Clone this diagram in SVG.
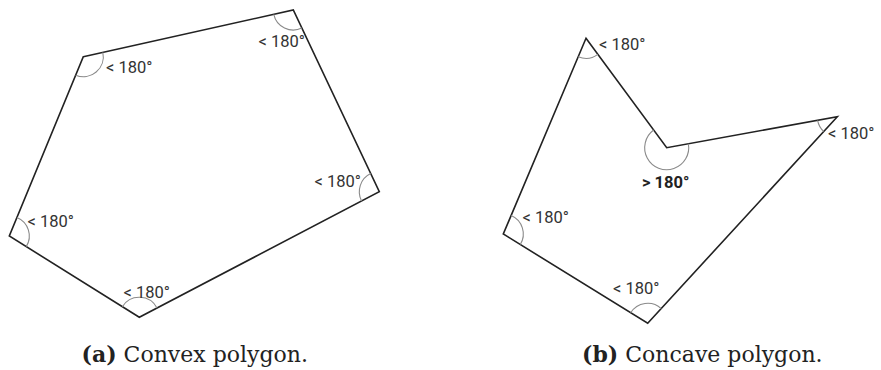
<svg xmlns="http://www.w3.org/2000/svg" width="881" height="370" viewBox="0 0 881 370">
<style>
.poly{fill:none;stroke:#222;stroke-width:1.6;stroke-linejoin:miter}
.arc{fill:none;stroke:#8a8a8a;stroke-width:1.1}
.lbl{font-family:Roboto,"Liberation Sans",sans-serif;font-size:16.5px;fill:#333}
.bold{font-weight:bold;fill:#222}
.cap{font-family:"DejaVu Serif","Liberation Serif",serif;font-size:22px;fill:#222}
</style>
<rect width="881" height="370" fill="#fff"/>
<g id="convex">
<polygon class="poly" points="83.3,56.7 293.3,10 379.3,191.7 139.3,317.3 9.3,236"/>
<path class="arc" d="M102.83,52.36 A20,20 0 0 1 75.67,75.19"/>
<path class="arc" d="M301.86,28.08 A20,20 0 0 1 273.77,14.34"/>
<path class="arc" d="M361.58,200.97 A20,20 0 0 1 370.74,173.62"/>
<path class="arc" d="M122.34,306.69 A20,20 0 0 1 157.02,308.03"/>
<path class="arc" d="M16.93,217.51 A20,20 0 0 1 26.26,246.61"/>
<text class="lbl" x="106" y="72.5">&lt; 180°</text>
<text class="lbl" x="258.5" y="46.5">&lt; 180°</text>
<text class="lbl" x="314.5" y="186.5">&lt; 180°</text>
<text class="lbl" x="27.5" y="226.5">&lt; 180°</text>
<text class="lbl" x="123.5" y="297.5">&lt; 180°</text>
</g>
<g id="concave">
<polygon class="poly" points="586,38.3 666.7,147.7 837.3,116.7 647.7,323.3 503.3,234"/>
<path class="arc" d="M597.87,54.40 A20,20 0 0 1 578.21,56.72"/>
<path class="arc" d="M688.35,143.77 A22,22 0 1 1 653.64,129.99"/>
<path class="arc" d="M823.78,131.44 A20,20 0 0 1 817.62,120.28"/>
<path class="arc" d="M630.69,312.78 A20,20 0 0 1 661.22,308.56"/>
<path class="arc" d="M511.09,215.58 A20,20 0 0 1 520.31,244.52"/>
<text class="lbl" x="599" y="50">&lt; 180°</text>
<text class="lbl" x="828" y="138.5">&lt; 180°</text>
<text class="lbl bold" x="642" y="188">&gt; 180°</text>
<text class="lbl" x="522.5" y="223.3">&lt; 180°</text>
<text class="lbl" x="613" y="294">&lt; 180°</text>
</g>
<g id="captions">
<text class="cap" x="81.5" y="362"><tspan font-weight="bold">(a)</tspan> Convex polygon.</text>
<text class="cap" x="582" y="362"><tspan font-weight="bold">(b)</tspan> Concave polygon.</text>
</g>
</svg>
